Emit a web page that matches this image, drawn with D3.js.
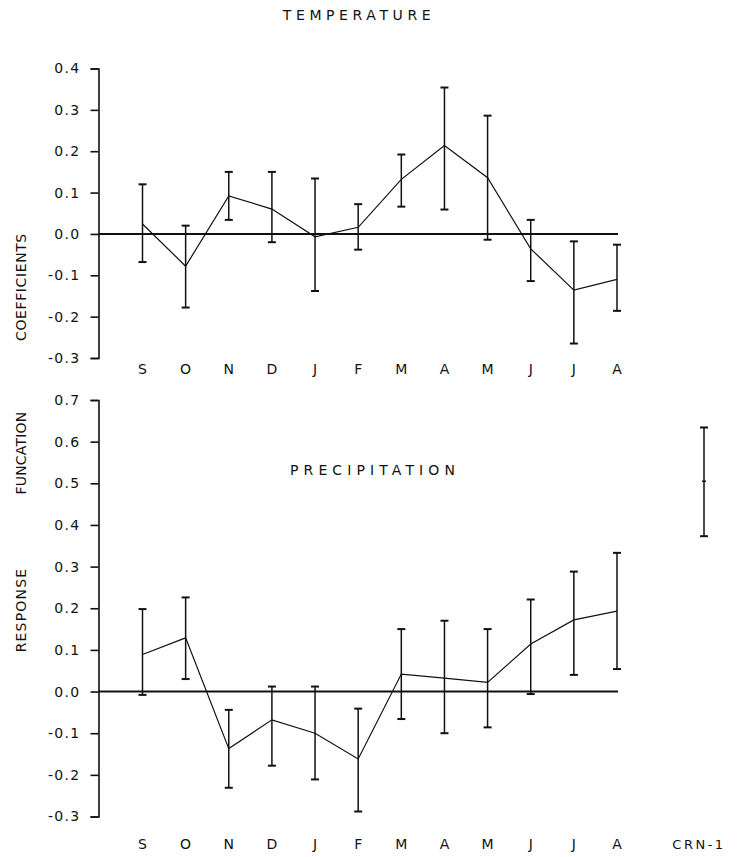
<!DOCTYPE html>
<html><head><meta charset="utf-8">
<script src="https://cdn.jsdelivr.net/npm/d3@7"></script>
<style>body{margin:0;background:#fff}svg{display:block}text{font-family:"DejaVu Sans",sans-serif;fill:#111}</style>
</head><body><svg id="c" width="746" height="857"></svg>
<script>
const months = ["S","O","N","D","J","F","M","A","M","J","J","A"];
const tempTicks = [0.4,0.3,0.2,0.1,0.0,-0.1,-0.2,-0.3];
const precTicks = [0.7,0.6,0.5,0.4,0.3,0.2,0.1,0.0,-0.1,-0.2,-0.3];
const tempCoef  = [0.024,-0.078,0.092,0.060,-0.007,0.016,0.132,0.214,0.136,-0.036,-0.136,-0.110];
const tempUpper = [0.120,0.020,0.150,0.150,0.134,0.072,0.192,0.354,0.286,0.034,-0.018,-0.026];
const tempLower = [-0.068,-0.178,0.034,-0.020,-0.138,-0.038,0.066,0.059,-0.014,-0.114,-0.265,-0.186];
const precCoef  = [0.089,0.129,-0.137,-0.068,-0.100,-0.162,0.042,0.032,0.022,0.114,0.172,0.193];
const precUpper = [0.198,0.226,-0.044,0.012,0.012,-0.041,0.150,0.170,0.150,0.221,0.288,0.333];
const precLower = [-0.008,0.030,-0.231,-0.178,-0.211,-0.288,-0.066,-0.100,-0.086,-0.006,0.040,0.054];
const crnLabel = "CRN-1";
const crn = {coef:0.505, upper:0.634, lower:0.373};

const svg = d3.select("#c");
const idx = d3.range(months.length);
const x = d3.scalePoint().domain(idx).range([142.5,617]);
const xCrn = 704;
const fmt = d => (d<0? "-"+d3.format(".1f")(-d) : d3.format(".1f")(d));

function panel(yScale, ticks, coef, upper, lower, labelY){
  const g = svg.append("g");
  const ax = g.append("g").attr("transform","translate(98.5,0)")
    .call(d3.axisLeft(yScale).tickValues(ticks).tickSize(8).tickPadding(10).tickFormat(fmt));
  ax.select(".domain").attr("stroke","#111").attr("stroke-width",1.6);
  ax.selectAll(".tick line").attr("stroke","#111").attr("stroke-width",1.6);
  ax.selectAll(".tick text").attr("font-size",14).attr("letter-spacing",1.3).attr("fill","#111")
    .attr("font-family","DejaVu Sans");
  g.append("line").attr("x1",98.5).attr("x2",618).attr("y1",yScale(0)).attr("y2",yScale(0))
    .attr("stroke","#111").attr("stroke-width",2);
  const eb = g.append("g").attr("stroke","#111").attr("stroke-width",1.5).attr("fill","none");
  idx.forEach(i=>{
    const cx = x(i);
    eb.append("line").attr("x1",cx).attr("x2",cx).attr("y1",yScale(upper[i])).attr("y2",yScale(lower[i]));
    eb.append("line").attr("x1",cx-4).attr("x2",cx+4).attr("y1",yScale(upper[i])).attr("y2",yScale(upper[i])).attr("stroke-width",2);
    eb.append("line").attr("x1",cx-4).attr("x2",cx+4).attr("y1",yScale(lower[i])).attr("y2",yScale(lower[i])).attr("stroke-width",2);
  });
  g.append("path").datum(coef)
    .attr("d", d3.line().x((d,i)=>x(i)).y(d=>yScale(d)))
    .attr("fill","none").attr("stroke","#111").attr("stroke-width",1.2);
  g.selectAll("text.m").data(months).join("text").attr("class","m")
    .attr("x",(d,i)=>x(i)).attr("y",labelY).attr("text-anchor","middle")
    .attr("font-size",14).text(d=>d);
  return g;
}

const yT = d3.scaleLinear().domain([-0.3,0.4]).range([358,68.5]);
panel(yT, tempTicks, tempCoef, tempUpper, tempLower, 374);

const yP = d3.scaleLinear().domain([-0.3,0.7]).range([816.5,400]);
panel(yP, precTicks, precCoef, precUpper, precLower, 849);

const ce = svg.append("g").attr("stroke","#111").attr("fill","none");
ce.append("line").attr("x1",xCrn).attr("x2",xCrn).attr("y1",yP(crn.upper)).attr("y2",yP(crn.lower)).attr("stroke-width",1.5);
[crn.upper,crn.lower].forEach(v=>ce.append("line").attr("x1",xCrn-4).attr("x2",xCrn+4).attr("y1",yP(v)).attr("y2",yP(v)).attr("stroke-width",2));
ce.append("line").attr("x1",xCrn-2).attr("x2",xCrn+2).attr("y1",yP(crn.coef)).attr("y2",yP(crn.coef)).attr("stroke-width",1.5);
svg.append("text").attr("x",699).attr("y",849).attr("text-anchor","middle").attr("font-size",13)
  .attr("letter-spacing",2.5).text(crnLabel);

svg.append("text").attr("x",359).attr("y",20).attr("text-anchor","middle").attr("font-size",14)
  .attr("letter-spacing",4.6).text("TEMPERATURE");
svg.append("text").attr("x",375).attr("y",475).attr("text-anchor","middle").attr("font-size",14)
  .attr("letter-spacing",5.1).text("PRECIPITATION");

function vlabel(txt,cx,cy,ls){
  svg.append("text").attr("transform",`translate(${cx},${cy}) rotate(-90)`)
    .attr("text-anchor","middle").attr("font-size",14).attr("letter-spacing",ls).text(txt);
}
vlabel("COEFFICIENTS",26,287,0.6);
vlabel("FUNCATION",26,453,0.2);
vlabel("RESPONSE",26,610,1.2);
</script></body></html>
